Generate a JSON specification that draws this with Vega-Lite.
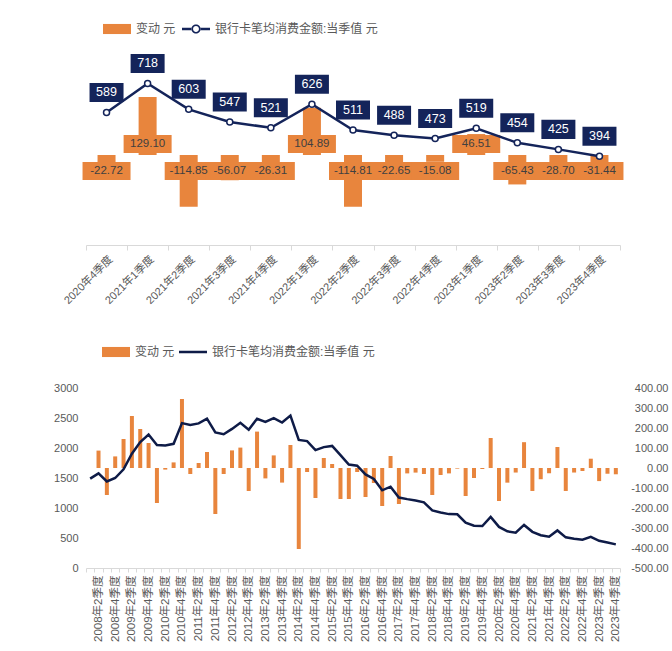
{
  "$schema": "https://vega.github.io/schema/vega-lite/v6.json",
  "background": "white",
  "padding": {"left": 53, "top": 15, "right": 4, "bottom": 3},
  "config": {
    "font": "Liberation Sans, Noto Sans CJK SC",
    "view": {"stroke": null},
    "axis": {"labelColor": "#595959", "labelFontSize": 11, "grid": false, "domain": false, "ticks": false},
    "locale": {"number": {"decimal": ".", "thousands": ",", "grouping": [3], "currency": ["", ""], "minus": "-"}}
  },
  "datasets": {
    "top": [
      {"q": "2020年4季度", "amount": 589, "change": -22.72},
      {"q": "2021年1季度", "amount": 718, "change": 129.10},
      {"q": "2021年2季度", "amount": 603, "change": -114.85},
      {"q": "2021年3季度", "amount": 547, "change": -56.07},
      {"q": "2021年4季度", "amount": 521, "change": -26.31},
      {"q": "2022年1季度", "amount": 626, "change": 104.89},
      {"q": "2022年2季度", "amount": 511, "change": -114.81},
      {"q": "2022年3季度", "amount": 488, "change": -22.65},
      {"q": "2022年4季度", "amount": 473, "change": -15.08},
      {"q": "2023年1季度", "amount": 519, "change": 46.51},
      {"q": "2023年2季度", "amount": 454, "change": -65.43},
      {"q": "2023年3季度", "amount": 425, "change": -28.70},
      {"q": "2023年4季度", "amount": 394, "change": -31.44}
    ],
    "bottom": [
      {"q": "2008年1季度", "amount": 1490, "change": null},
      {"q": "2008年2季度", "amount": 1577, "change": 87},
      {"q": "2008年3季度", "amount": 1442, "change": -135},
      {"q": "2008年4季度", "amount": 1500, "change": 58},
      {"q": "2009年1季度", "amount": 1645, "change": 145},
      {"q": "2009年2季度", "amount": 1905, "change": 260},
      {"q": "2009年3季度", "amount": 2100, "change": 195},
      {"q": "2009年4季度", "amount": 2225, "change": 125},
      {"q": "2010年1季度", "amount": 2050, "change": -175},
      {"q": "2010年2季度", "amount": 2042, "change": -8},
      {"q": "2010年3季度", "amount": 2070, "change": 28},
      {"q": "2010年4季度", "amount": 2415, "change": 345},
      {"q": "2011年1季度", "amount": 2385, "change": -30},
      {"q": "2011年2季度", "amount": 2410, "change": 25},
      {"q": "2011年3季度", "amount": 2490, "change": 80},
      {"q": "2011年4季度", "amount": 2260, "change": -230},
      {"q": "2012年1季度", "amount": 2230, "change": -30},
      {"q": "2012年2季度", "amount": 2318, "change": 88},
      {"q": "2012年3季度", "amount": 2420, "change": 102},
      {"q": "2012年4季度", "amount": 2305, "change": -115},
      {"q": "2013年1季度", "amount": 2487, "change": 182},
      {"q": "2013年2季度", "amount": 2435, "change": -52},
      {"q": "2013年3季度", "amount": 2498, "change": 63},
      {"q": "2013年4季度", "amount": 2425, "change": -73},
      {"q": "2014年1季度", "amount": 2540, "change": 115},
      {"q": "2014年2季度", "amount": 2135, "change": -405},
      {"q": "2014年3季度", "amount": 2115, "change": -20},
      {"q": "2014年4季度", "amount": 1965, "change": -150},
      {"q": "2015年1季度", "amount": 2015, "change": 50},
      {"q": "2015年2季度", "amount": 2035, "change": 20},
      {"q": "2015年3季度", "amount": 1880, "change": -155},
      {"q": "2015年4季度", "amount": 1725, "change": -155},
      {"q": "2016年1季度", "amount": 1705, "change": -20},
      {"q": "2016年2季度", "amount": 1560, "change": -145},
      {"q": "2016年3季度", "amount": 1485, "change": -75},
      {"q": "2016年4季度", "amount": 1295, "change": -190},
      {"q": "2017年1季度", "amount": 1355, "change": 60},
      {"q": "2017年2季度", "amount": 1175, "change": -180},
      {"q": "2017年3季度", "amount": 1148, "change": -27},
      {"q": "2017年4季度", "amount": 1125, "change": -23},
      {"q": "2018年1季度", "amount": 1095, "change": -30},
      {"q": "2018年2季度", "amount": 960, "change": -135},
      {"q": "2018年3季度", "amount": 925, "change": -35},
      {"q": "2018年4季度", "amount": 898, "change": -27},
      {"q": "2019年1季度", "amount": 895, "change": -3},
      {"q": "2019年2季度", "amount": 755, "change": -140},
      {"q": "2019年3季度", "amount": 705, "change": -50},
      {"q": "2019年4季度", "amount": 700, "change": -5},
      {"q": "2020年1季度", "amount": 850, "change": 150},
      {"q": "2020年2季度", "amount": 685, "change": -165},
      {"q": "2020年3季度", "amount": 611.72, "change": -73.28},
      {"q": "2020年4季度", "amount": 589, "change": -22.72},
      {"q": "2021年1季度", "amount": 718, "change": 129.10},
      {"q": "2021年2季度", "amount": 603, "change": -114.85},
      {"q": "2021年3季度", "amount": 547, "change": -56.07},
      {"q": "2021年4季度", "amount": 521, "change": -26.31},
      {"q": "2022年1季度", "amount": 626, "change": 104.89},
      {"q": "2022年2季度", "amount": 511, "change": -114.81},
      {"q": "2022年3季度", "amount": 488, "change": -22.65},
      {"q": "2022年4季度", "amount": 473, "change": -15.08},
      {"q": "2023年1季度", "amount": 519, "change": 46.51},
      {"q": "2023年2季度", "amount": 454, "change": -65.43},
      {"q": "2023年3季度", "amount": 425, "change": -28.70},
      {"q": "2023年4季度", "amount": 394, "change": -31.44}
    ]
  },
  "spacing": 32,
  "resolve": {"scale": {"color": "independent"}, "legend": {"color": "independent"}},
  "vconcat": [
    {
      "width": 534,
      "height": 180,
      "data": {"name": "top"},
      "encoding": {
        "x": {
          "field": "q", "type": "nominal", "sort": "ascending",
          "scale": {"paddingInner": 0, "paddingOuter": 0},
          "axis": {"title": null, "labelAngle": -45, "domain": true, "domainColor": "#d9d9d9", "ticks": true, "tickBand": "extent", "tickColor": "#d9d9d9", "tickSize": 5, "labelPadding": 3, "labelFontSize": 11}
        }
      },
      "layer": [
        {
          "layer": [
            {
              "mark": {"type": "bar", "size": 18},
              "encoding": {
                "y": {
                  "field": "change", "type": "quantitative",
                  "scale": {"domain": [-150, 150]},
                  "axis": {"title": null, "orient": "right", "values": [-150, -100, -50, 0, 50, 100, 150], "format": ".2f", "labelAlign": "right", "labelPadding": 48}
                },
                "color": {
                  "datum": "变动 元",
                  "scale": {"domain": ["变动 元", "银行卡笔均消费金额:当季值 元"], "range": ["#E8853D", "#14245a"]},
                  "legend": {
                    "orient": "none", "legendX": 17, "legendY": -50, "direction": "horizontal", "title": null,
                    "labelFontSize": 12, "labelColor": "#595959", "labelLimit": 400, "symbolSize": 784, "labelOffset": 5, "columnPadding": 6,
                    "encode": {"symbols": {"update": {
                      "shape": {"signal": "datum.value === '变动 元' ? 'M-1,-0.36L1,-0.36L1,0.36L-1,0.36Z' : 'M-1,-0.09L-0.31,-0.09L-0.31,0.09L-1,0.09Z M0.31,-0.09L1,-0.09L1,0.09L0.31,0.09Z M0.33,0A0.33,0.33 0 1 0 -0.33,0A0.33,0.33 0 1 0 0.33,0Z M0.21,0A0.21,0.21 0 1 1 -0.21,0A0.21,0.21 0 1 1 0.21,0Z'"},
                      "strokeWidth": {"value": 0},
                      "opacity": {"value": 1},
                      "size": {"value": 784}
                    }}}
                  }
                }
              }
            },
            {
              "transform": [{"filter": "datum.change < 0"}],
              "mark": {"type": "point", "shape": "M-1,-0.375L1,-0.375L1,0.375L-1,0.375Z", "size": 2304, "filled": true, "color": "#E8853D", "opacity": 1, "yOffset": 16},
              "encoding": {"y": {"datum": 0, "type": "quantitative", "axis": null}}
            },
            {
              "transform": [{"filter": "datum.change >= 0"}],
              "mark": {"type": "point", "shape": "M-1,-0.375L1,-0.375L1,0.375L-1,0.375Z", "size": 2304, "filled": true, "color": "#E8853D", "opacity": 1, "yOffset": -11},
              "encoding": {"y": {"datum": 0, "type": "quantitative", "axis": null}}
            },
            {
              "transform": [{"filter": "datum.change < 0"}],
              "mark": {"type": "text", "color": "#404040", "fontSize": 11.5, "baseline": "middle", "yOffset": 16},
              "encoding": {"y": {"datum": 0, "type": "quantitative", "axis": null}, "text": {"field": "change", "format": ".2f"}}
            },
            {
              "transform": [{"filter": "datum.change >= 0"}],
              "mark": {"type": "text", "color": "#404040", "fontSize": 11.5, "baseline": "middle", "yOffset": -11},
              "encoding": {"y": {"datum": 0, "type": "quantitative", "axis": null}, "text": {"field": "change", "format": ".2f"}}
            }
          ]
        },
        {
          "layer": [
            {
              "mark": {"type": "line", "strokeWidth": 2.5},
              "encoding": {
                "y": {
                  "field": "amount", "type": "quantitative",
                  "scale": {"domain": [0, 800]},
                  "axis": {"title": null, "orient": "left", "values": [0, 100, 200, 300, 400, 500, 600, 700, 800], "format": "d", "labelPadding": 8}
                },
                "color": {"datum": "银行卡笔均消费金额:当季值 元"}
              }
            },
            {
              "mark": {"type": "point", "shape": "circle", "filled": true, "fill": "#ffffff", "stroke": "#14245a", "strokeWidth": 1.5, "size": 36, "opacity": 1},
              "encoding": {"y": {"field": "amount", "type": "quantitative", "axis": null}}
            },
            {
              "mark": {"type": "point", "shape": "M-1,-0.56L1,-0.56L1,0.56L-1,0.56Z", "size": 1156, "filled": true, "color": "#14245a", "opacity": 1, "yOffset": -20},
              "encoding": {"y": {"field": "amount", "type": "quantitative", "axis": null}}
            },
            {
              "mark": {"type": "text", "color": "#ffffff", "fontSize": 12.5, "baseline": "middle", "yOffset": -20},
              "encoding": {"y": {"field": "amount", "type": "quantitative", "axis": null}, "text": {"field": "amount", "format": ".0f"}}
            }
          ]
        }
      ],
      "resolve": {"scale": {"y": "independent"}}
    },
    {
      "width": 534,
      "height": 180,
      "data": {"name": "bottom"},
      "encoding": {
        "x": {
          "field": "q", "type": "nominal", "sort": "ascending",
          "scale": {"paddingInner": 0, "paddingOuter": 0},
          "axis": {"title": null, "labelAngle": -90, "domain": true, "domainColor": "#d9d9d9", "ticks": true, "tickBand": "extent", "tickColor": "#d9d9d9", "tickSize": 4, "labelPadding": 3, "labelFontSize": 11.5,
            "labelExpr": "indexof(datum.label, '1季度') >= 0 || indexof(datum.label, '3季度') >= 0 ? '' : datum.label"}
        }
      },
      "layer": [
        {
          "mark": {"type": "bar", "size": 4},
          "encoding": {
            "y": {
              "field": "change", "type": "quantitative",
              "scale": {"domain": [-500, 400]},
              "axis": {"title": null, "orient": "right", "values": [-500, -400, -300, -200, -100, 0, 100, 200, 300, 400], "format": ".2f", "labelAlign": "right", "labelPadding": 48}
            },
            "color": {
              "datum": "变动 元",
              "scale": {"domain": ["变动 元", "银行卡笔均消费金额:当季值 元"], "range": ["#E8853D", "#0e1b47"]},
              "legend": {
                "orient": "none", "legendX": 16, "legendY": -50, "direction": "horizontal", "title": null,
                "labelFontSize": 12, "labelColor": "#595959", "labelLimit": 400, "symbolSize": 784, "labelOffset": 5, "columnPadding": 4,
                "encode": {"symbols": {"update": {
                  "shape": {"signal": "datum.value === '变动 元' ? 'M-1,-0.36L1,-0.36L1,0.36L-1,0.36Z' : 'M-1,-0.09L1,-0.09L1,0.09L-1,0.09Z'"},
                  "strokeWidth": {"value": 0},
                  "opacity": {"value": 1},
                  "size": {"value": 784}
                }}}
              }
            }
          }
        },
        {
          "mark": {"type": "line", "strokeWidth": 2.5},
          "encoding": {
            "y": {
              "field": "amount", "type": "quantitative",
              "scale": {"domain": [0, 3000]},
              "axis": {"title": null, "orient": "left", "values": [0, 500, 1000, 1500, 2000, 2500, 3000], "format": "d", "labelPadding": 8}
            },
            "color": {"datum": "银行卡笔均消费金额:当季值 元"}
          }
        }
      ],
      "resolve": {"scale": {"y": "independent"}}
    }
  ]
}
